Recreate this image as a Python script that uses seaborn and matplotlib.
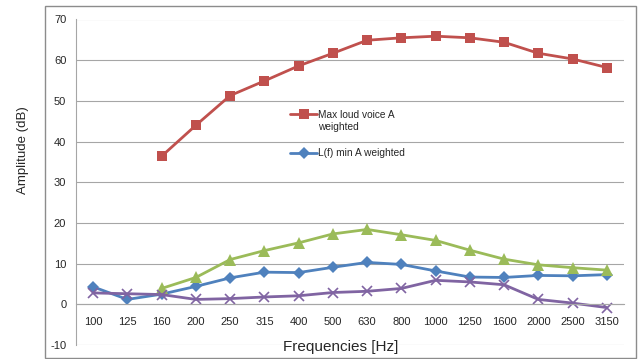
import numpy as np
import pandas as pd
import matplotlib
matplotlib.use("Agg")
import matplotlib.pyplot as plt
import seaborn as sns
from matplotlib.patches import Rectangle

# ---- data ----
freqs = ['100', '125', '160', '200', '250', '315', '400', '500', '630',
         '800', '1000', '1250', '1600', '2000', '2500', '3150']
max_loud = [np.nan, np.nan, 36.4, 44.0, 51.3, 54.9, 58.6, 61.7, 64.9,
            65.5, 65.9, 65.5, 64.4, 61.7, 60.3, 58.2]
lf_min = [4.3, 1.2, 2.5, 4.4, 6.5, 7.9, 7.8, 9.1, 10.3,
          9.8, 8.2, 6.7, 6.6, 7.1, 7.0, 7.3]
green_series = [np.nan, np.nan, 3.9, 6.6, 11.0, 13.2, 15.1, 17.3, 18.4,
                17.1, 15.7, 13.3, 11.1, 9.7, 9.0, 8.4]
purple_series = [2.8, 2.6, 2.4, 1.2, 1.4, 1.8, 2.1, 2.9, 3.2,
                 3.9, 5.9, 5.5, 4.8, 1.2, 0.3, -0.8]

pos = np.arange(len(freqs))

sns.set_style("white")
plt.rcParams['font.family'] = ['Liberation Sans', 'DejaVu Sans']
plt.rcParams['axes.unicode_minus'] = False

fig = plt.figure(figsize=(6.41, 3.59), dpi=100)
ax = fig.add_axes([76 / 641, 1 - 345 / 359, (624 - 76) / 641, (345 - 19.5) / 359])

# outer chart border
fig.patches.append(Rectangle((45 / 641, 1 - 358 / 359), (636 - 45) / 641, (358 - 6) / 359,
                             transform=fig.transFigure, fill=False,
                             edgecolor='#8c8c8c', linewidth=1.0))

lw = 2.0
sns.lineplot(x=pos, y=max_loud, ax=ax, color='#C0504D', marker='s', markersize=7,
             markeredgewidth=0, linewidth=lw, label='Max loud voice A')
sns.lineplot(x=pos, y=lf_min, ax=ax, color='#4F81BD', marker='D', markersize=6,
             markeredgewidth=0, linewidth=lw, label='L(f) min A weighted')
sns.lineplot(x=pos, y=green_series, ax=ax, color='#9BBB59', marker='^', markersize=8,
             markeredgewidth=0, linewidth=lw, legend=False)
sns.lineplot(x=pos, y=purple_series, ax=ax, color='#8064A2', marker='x', markersize=7,
             markeredgewidth=1.2, markeredgecolor='#8064A2', linewidth=lw, legend=False)

ax.set_xlim(-0.5, len(freqs) - 0.5)
ax.set_ylim(-10, 70)
ax.set_yticks(range(-10, 71, 10))
ax.yaxis.grid(True, color='#a6a6a6', linewidth=0.8)
ax.set_axisbelow(True)

# x axis crosses at 0, tick marks between categories
for s in ['top', 'right']:
    ax.spines[s].set_visible(False)
ax.spines['left'].set_color('#a6a6a6')
ax.spines['bottom'].set_position(('data', 0))
ax.spines['bottom'].set_color('#a6a6a6')
ax.set_xticks(pos)
ax.set_xticklabels(freqs)
ax.set_xticks(np.arange(-0.5, len(freqs), 1.0), minor=True)
ax.tick_params(axis='x', which='major', length=0, pad=9, labelsize=8)
ax.tick_params(axis='x', which='minor', length=4, color='#a6a6a6', direction='out')
ax.tick_params(axis='y', length=4, color='#a6a6a6', labelsize=8, pad=3)

ax.set_xlabel('Frequencies [Hz]', fontsize=11)
ax.xaxis.set_label_coords(0.483, -0.005, transform=ax.transAxes)
ax.xaxis.label.set_va('center')
fig.text(23 / 641, 1 - 150 / 359, 'Amplitude (dB)', rotation=90, fontsize=9.5,
         ha='center', va='center')

leg = ax.legend(loc='upper left', bbox_to_anchor=(0.374, 0.75), frameon=False,
                fontsize=7.3, handlelength=2.7, handletextpad=0.1, labelspacing=2.8)
# wrapped second line of the first legend label
ax.text(0.4416, 0.6697, 'weighted', transform=ax.transAxes, fontsize=7.3,
        ha='left', va='center')

fig.savefig('out.png', dpi=100)
